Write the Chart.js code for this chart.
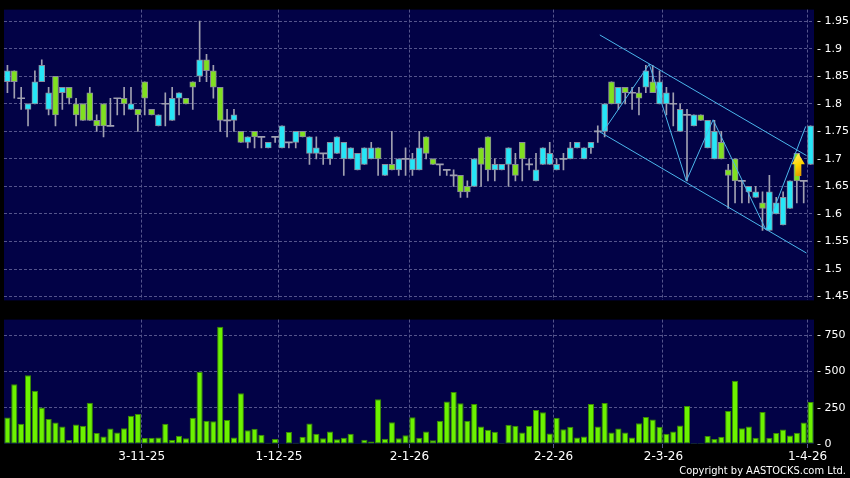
<!DOCTYPE html>
<html>
<head>
<meta charset="utf-8">
<script src="https://cdn.jsdelivr.net/npm/chart.js@4.4.0/dist/chart.umd.min.js"></script>
<style>
  html, body { margin: 0; padding: 0; background: #000; }
  #wrap { position: relative; width: 850px; height: 478px; background: #000; overflow: hidden; }
  #priceChart { position: absolute; left: 0; top: 0; }
  #volChart { position: absolute; left: 0; top: 310px; }
  #copy { position: absolute; right: 4px; top: 464px; color: #fff;
          font: 11px "DejaVu Sans Condensed", "DejaVu Sans", sans-serif; }
</style>
</head>
<body>
<div id="wrap">
  <canvas id="priceChart" width="850" height="310"></canvas>
  <canvas id="volChart" width="850" height="168"></canvas>
  <div id="copy">Copyright by AASTOCKS.com Ltd.</div>
</div>
<script>
// daily candles, oldest first
var opens = [
  1.84,1.86,1.81,1.79,1.80,1.84,1.79,1.85,1.82,1.83,
  1.80,1.80,1.82,1.77,1.80,1.76,1.81,1.81,1.79,1.79,
  1.84,1.79,1.76,1.80,1.77,1.81,1.81,1.84,1.85,1.88,
  1.86,1.83,1.77,1.77,1.75,1.73,1.75,1.74,1.72,1.74,
  1.72,1.73,1.73,1.75,1.71,1.71,1.71,1.70,1.71,1.70,
  1.70,1.68,1.69,1.70,1.72,1.67,1.69,1.68,1.70,1.68,
  1.68,1.74,1.70,1.69,1.68,1.67,1.67,1.65,1.65,1.72,
  1.74,1.68,1.68,1.69,1.69,1.73,1.69,1.66,1.69,1.69,
  1.68,1.70,1.70,1.72,1.70,1.72,1.75,1.75,1.84,1.80,
  1.83,1.82,1.82,1.83,1.84,1.80,1.80,1.80,1.75,1.78,
  1.76,1.78,1.72,1.70,1.73,1.68,1.70,1.66,1.64,1.63,
  1.62,1.57,1.60,1.58,1.61,1.71,1.66,1.69];
var highs = [
  1.87,1.86,1.83,1.80,1.86,1.88,1.83,1.85,1.83,1.83,
  1.81,1.80,1.83,1.78,1.80,1.81,1.81,1.83,1.83,1.79,
  1.84,1.79,1.78,1.82,1.83,1.82,1.81,1.84,1.95,1.89,
  1.87,1.83,1.79,1.79,1.75,1.74,1.75,1.74,1.73,1.74,
  1.76,1.73,1.75,1.75,1.74,1.74,1.71,1.73,1.74,1.73,
  1.72,1.71,1.72,1.73,1.72,1.69,1.75,1.70,1.72,1.71,
  1.75,1.74,1.70,1.69,1.68,1.68,1.67,1.66,1.70,1.72,
  1.74,1.70,1.69,1.72,1.71,1.73,1.70,1.71,1.72,1.73,
  1.70,1.71,1.73,1.73,1.72,1.73,1.76,1.80,1.84,1.83,
  1.83,1.83,1.83,1.87,1.87,1.86,1.83,1.82,1.80,1.79,
  1.78,1.78,1.77,1.77,1.75,1.69,1.70,1.66,1.65,1.65,
  1.64,1.67,1.63,1.64,1.66,1.71,1.66,1.76];
var lows = [
  1.82,1.81,1.79,1.76,1.80,1.84,1.78,1.76,1.79,1.80,
  1.76,1.77,1.77,1.75,1.74,1.76,1.78,1.78,1.79,1.75,
  1.78,1.78,1.76,1.76,1.77,1.78,1.80,1.79,1.84,1.84,
  1.81,1.75,1.74,1.75,1.73,1.72,1.72,1.72,1.72,1.73,
  1.72,1.72,1.72,1.74,1.69,1.70,1.69,1.69,1.71,1.67,
  1.70,1.68,1.69,1.70,1.67,1.67,1.68,1.67,1.67,1.67,
  1.68,1.70,1.69,1.67,1.67,1.65,1.63,1.63,1.65,1.65,
  1.66,1.66,1.68,1.65,1.66,1.66,1.68,1.66,1.69,1.69,
  1.68,1.68,1.70,1.72,1.70,1.71,1.73,1.74,1.80,1.79,
  1.80,1.79,1.78,1.82,1.82,1.80,1.78,1.76,1.75,1.66,
  1.76,1.77,1.72,1.70,1.70,1.61,1.62,1.62,1.62,1.63,
  1.57,1.57,1.60,1.58,1.61,1.62,1.62,1.69];
var closes = [
  1.86,1.84,1.81,1.80,1.84,1.87,1.82,1.78,1.83,1.81,
  1.78,1.77,1.77,1.76,1.76,1.76,1.81,1.80,1.80,1.78,
  1.81,1.78,1.78,1.80,1.81,1.82,1.80,1.83,1.88,1.86,
  1.83,1.77,1.77,1.78,1.73,1.74,1.74,1.74,1.73,1.74,
  1.76,1.73,1.75,1.74,1.74,1.72,1.71,1.73,1.74,1.73,
  1.72,1.71,1.72,1.72,1.70,1.69,1.68,1.70,1.70,1.70,
  1.72,1.71,1.69,1.69,1.68,1.67,1.64,1.64,1.70,1.69,
  1.68,1.69,1.69,1.72,1.67,1.70,1.69,1.68,1.72,1.71,
  1.69,1.70,1.72,1.73,1.72,1.73,1.75,1.80,1.80,1.83,
  1.82,1.82,1.81,1.86,1.82,1.84,1.82,1.80,1.79,1.78,
  1.78,1.77,1.77,1.75,1.70,1.67,1.66,1.66,1.65,1.64,
  1.61,1.64,1.62,1.63,1.66,1.66,1.66,1.76];
// volume ('000 shares)
var volumes = [
  182,411,139,473,366,252,173,148,120,27,
  134,125,284,75,52,107,80,109,195,207,
  41,43,45,139,27,57,39,180,498,161,
  157,807,166,45,350,95,105,64,9,34,
  2,82,9,50,141,70,39,86,32,43,
  70,5,30,18,309,36,150,39,61,184,
  43,86,25,161,293,359,280,161,275,120,
  98,84,7,132,125,80,125,234,218,73,
  180,102,118,45,52,275,120,282,80,107,
  80,45,143,186,168,118,70,86,127,261,
  7,7,55,34,50,227,436,109,120,43,
  220,43,75,100,59,77,148,289];

// date ticks and the candle each one sits on
var tickLabels = ['3-11-25', '1-12-25', '2-1-26', '2-2-26', '2-3-26', '1-4-26'];
var tickAt = [20, 40, 59, 80, 96, 117];
var priceTicks = [1.45, 1.5, 1.55, 1.6, 1.65, 1.7, 1.75, 1.8, 1.85, 1.9, 1.95];
var volTicks = [0, 250, 500, 750];

// drawn trend lines (candle index, price)
var channelTop = [{x: 86.3, y: 1.925}, {x: 116.4, y: 1.706}];
var channelBottom = [{x: 86.3, y: 1.749}, {x: 116.4, y: 1.529}];
var zigzag = [
  {x: 86.7, y: 1.748}, {x: 93.5, y: 1.872}, {x: 98.9, y: 1.660},
  {x: 102.8, y: 1.771}, {x: 110.5, y: 1.571}, {x: 116.3, y: 1.759}];
var arrowAt = 115, arrowTip = 1.71, arrowBase = 1.669;

var NAVY = '#020246';
var GRID = '#55558c';
var UP = '#26e6f7';
var DOWN = '#80e020';
var WICK = '#a0a0b0';
var LINE = '#4bb6ec';
var FONT = 'DejaVu Sans';

var categories = opens.map(function(o, i) { return String(i); });

var wickData = highs.map(function(h, i) { return [lows[i], h]; });
var bodyData = opens.map(function(o, i) {
  var c = closes[i];
  return o === c ? null : [Math.min(o, c), Math.max(o, c)];
});
var dojiData = opens.map(function(o, i) {
  return o === closes[i] ? [o - 0.0009, o + 0.0009] : null;
});
var bodyColors = opens.map(function(o, i) { return closes[i] > o ? UP : DOWN; });

function gridAtTicks(ctx) {
  return ctx.type === 'tick' && tickAt.indexOf(ctx.index) >= 0 ? GRID : 'rgba(0,0,0,0)';
}
function fmtPrice(v) { return '- ' + parseFloat(v.toFixed(2)); }

var plotBg = {
  id: 'plotBg',
  beforeDraw: function(chart) {
    var a = chart.chartArea, ctx = chart.ctx;
    ctx.save();
    ctx.fillStyle = NAVY;
    ctx.fillRect(a.left, a.top, a.right - a.left, a.bottom - a.top);
    ctx.restore();
  }
};

var arrowMark = {
  id: 'arrowMark',
  afterDatasetsDraw: function(chart) {
    var xs = chart.scales.x, ys = chart.scales.y, ctx = chart.ctx;
    var cx = xs.getPixelForValue(arrowAt) + 1.5;
    var top = ys.getPixelForValue(arrowTip), bot = ys.getPixelForValue(arrowBase);
    var hw = 6.5, sw = 3, hh = (bot - top) * 0.48;
    var g = ctx.createLinearGradient(cx - hw, top, cx + hw, bot);
    g.addColorStop(0, '#fff27a');
    g.addColorStop(0.5, '#ffd400');
    g.addColorStop(1, '#d98c00');
    ctx.save();
    ctx.beginPath();
    ctx.moveTo(cx, top);
    ctx.lineTo(cx + hw, top + hh);
    ctx.lineTo(cx + sw, top + hh);
    ctx.lineTo(cx + sw, bot);
    ctx.lineTo(cx - sw, bot);
    ctx.lineTo(cx - sw, top + hh);
    ctx.lineTo(cx - hw, top + hh);
    ctx.closePath();
    ctx.fillStyle = g;
    ctx.fill();
    ctx.restore();
  }
};

function lineSet(data) {
  return {
    type: 'line', data: data, xAxisID: 'xl', borderColor: LINE, borderWidth: 1,
    pointRadius: 0, fill: false, tension: 0, order: 0
  };
}

new Chart(document.getElementById('priceChart'), {
  type: 'bar',
  data: {
    labels: categories,
    datasets: [
      { data: wickData, backgroundColor: WICK, barThickness: 1, grouped: false, order: 3 },
      { data: bodyData, backgroundColor: bodyColors, borderColor: '#8a8a9c', borderWidth: 1,
        borderSkipped: false, barThickness: 6, grouped: false, order: 2 },
      { data: dojiData, backgroundColor: WICK, barThickness: 7, grouped: false, order: 1 },
      lineSet(channelTop),
      lineSet(channelBottom),
      lineSet(zigzag)
    ]
  },
  options: {
    responsive: false,
    animation: false,
    devicePixelRatio: 1,
    layout: { padding: { left: 4, top: 6, right: 0, bottom: 3 } },
    plugins: { legend: { display: false }, tooltip: { enabled: false } },
    scales: {
      x: {
        type: 'category', offset: true,
        grid: { offset: true, color: gridAtTicks, drawTicks: false },
        border: { display: false, dash: [3, 2] },
        ticks: { display: false, autoSkip: false },
        afterFit: function(s) { s.height = 0; }
      },
      xl: {
        type: 'linear', display: false, offset: false, grid: { offset: false },
        min: -0.5, max: 117.5, bounds: 'ticks'
      },
      y: {
        position: 'right', min: 1.442982, max: 1.971053,
        afterBuildTicks: function(s) { s.ticks = priceTicks.map(function(v) { return {value: v}; }); },
        afterFit: function(s) { s.width = 36; },
        grid: { color: GRID, drawTicks: false },
        border: { display: false, dash: [3, 2] },
        ticks: { color: '#ffffff', padding: 3, font: { family: FONT, size: 11 }, callback: fmtPrice }
      }
    }
  },
  plugins: [plotBg, arrowMark]
});

new Chart(document.getElementById('volChart'), {
  type: 'bar',
  data: {
    labels: categories,
    datasets: [{
      data: volumes, backgroundColor: '#6cf200', borderColor: '#3a8c00', borderWidth: 1,
      borderSkipped: false, barPercentage: 0.9, categoryPercentage: 1.0
    }]
  },
  options: {
    responsive: false,
    animation: false,
    devicePixelRatio: 1,
    layout: { padding: { left: 4, top: 8, right: 0, bottom: 0 } },
    plugins: { legend: { display: false }, tooltip: { enabled: false } },
    scales: {
      x: {
        type: 'category', offset: true,
        grid: { offset: true, color: gridAtTicks, tickLength: 4 },
        border: { display: false, dash: [3, 2] },
        ticks: {
          color: '#ffffff', autoSkip: false, maxRotation: 0, padding: 2, labelOffset: -3,
          font: { family: FONT, size: 12 },
          callback: function(v, i) { var j = tickAt.indexOf(i); return j >= 0 ? tickLabels[j] : ''; }
        },
        afterFit: function(s) { s.height = 34; }
      },
      y: {
        position: 'right', min: 0, max: 857,
        afterBuildTicks: function(s) { s.ticks = volTicks.map(function(v) { return {value: v}; }); },
        afterFit: function(s) { s.width = 36; },
        grid: { color: function(ctx) { return ctx.tick && ctx.tick.value === 0 ? 'rgba(0,0,0,0)' : GRID; },
                drawTicks: false },
        border: { display: false, dash: [3, 2] },
        ticks: { color: '#ffffff', padding: 3, font: { family: FONT, size: 11 },
                 callback: function(v) { return '- ' + v; } }
      }
    }
  },
  plugins: [plotBg]
});
</script>
</body>
</html>
